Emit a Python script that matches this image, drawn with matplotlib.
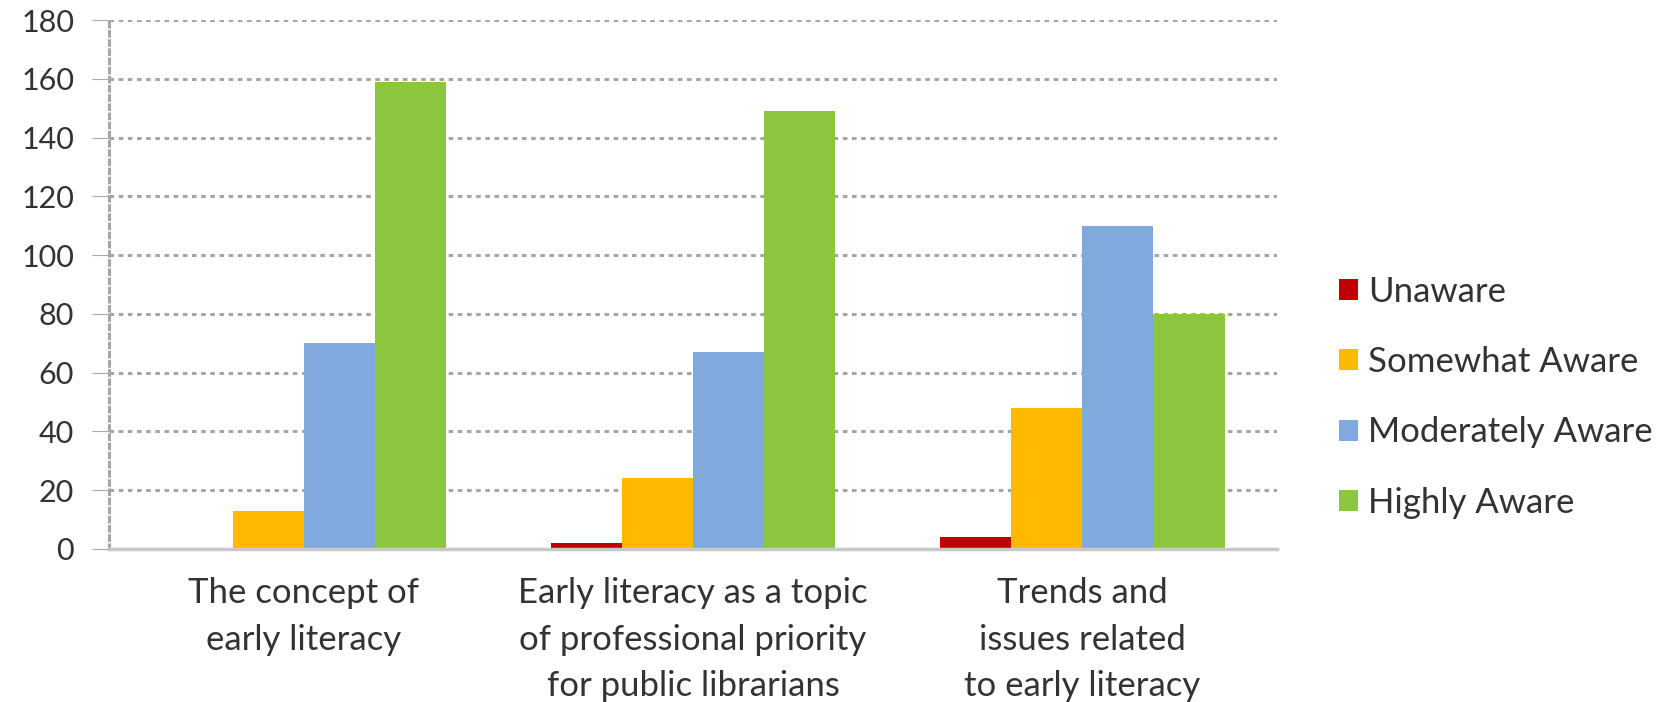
import matplotlib
matplotlib.use("Agg")
import matplotlib.pyplot as plt
import numpy as np

categories = [
    "The concept of\nearly literacy",
    "Early literacy as a topic\nof professional priority\nfor public librarians",
    "Trends and\nissues related\nto early literacy",
]
series_names = ["Unaware", "Somewhat Aware", "Moderately Aware", "Highly Aware"]
unaware = [0, 2, 4]
somewhat_aware = [13, 24, 48]
moderately_aware = [70, 67, 110]
highly_aware = [159, 149, 80]
y_ticks = [0, 20, 40, 60, 80, 100, 120, 140, 160, 180]

colors = ["#C00000", "#FFBA00", "#80A9DE", "#8CC63F"]
text_color = "#333333"
plt.rcParams["font.family"] = ["Lato", "DejaVu Sans"]

fig = plt.figure(figsize=(16.76, 7.02), dpi=100)
ax = fig.add_axes([0.065, 0.218, 0.697, 0.7535])

x = np.arange(len(categories))
width = 0.1825
all_series = [unaware, somewhat_aware, moderately_aware, highly_aware]
for i, (name, vals, col) in enumerate(zip(series_names, all_series, colors)):
    ax.bar(x + (i - 1.5) * width, vals, width, color=col, label=name, zorder=3)

ax.set_xlim(-0.5, 2.5)
ax.set_ylim(0, 180)
ax.set_yticks(y_ticks)
ax.set_xticks(x)
ax.set_xticklabels(categories, fontsize=25, color=text_color, linespacing=1.57)
ax.tick_params(axis="y", labelsize=22, labelcolor=text_color, length=12,
               color="#aaaaaa", pad=13, direction="out")
ax.tick_params(axis="x", length=0, pad=20)

ax.yaxis.grid(True, color="#a6a6a6", linestyle=(0, (1.5, 1.5)), linewidth=2.2, zorder=0)
for side in ["top", "right"]:
    ax.spines[side].set_visible(False)
ax.spines["left"].set_color("#a6a6a6")
ax.spines["left"].set_linestyle((0, (1.5, 1.5)))
ax.spines["left"].set_linewidth(2.2)
ax.spines["bottom"].set_color("#c8c8c8")
ax.spines["bottom"].set_linewidth(2.5)
ax.spines["bottom"].set_zorder(4)

fig.legend(loc="center left", bbox_to_anchor=(0.78, 0.434), frameon=False,
           fontsize=25, labelcolor=text_color, handlelength=0.55, handleheight=0.55,
           handletextpad=0.3, labelspacing=1.1)

fig.savefig("out.png", dpi=100)
